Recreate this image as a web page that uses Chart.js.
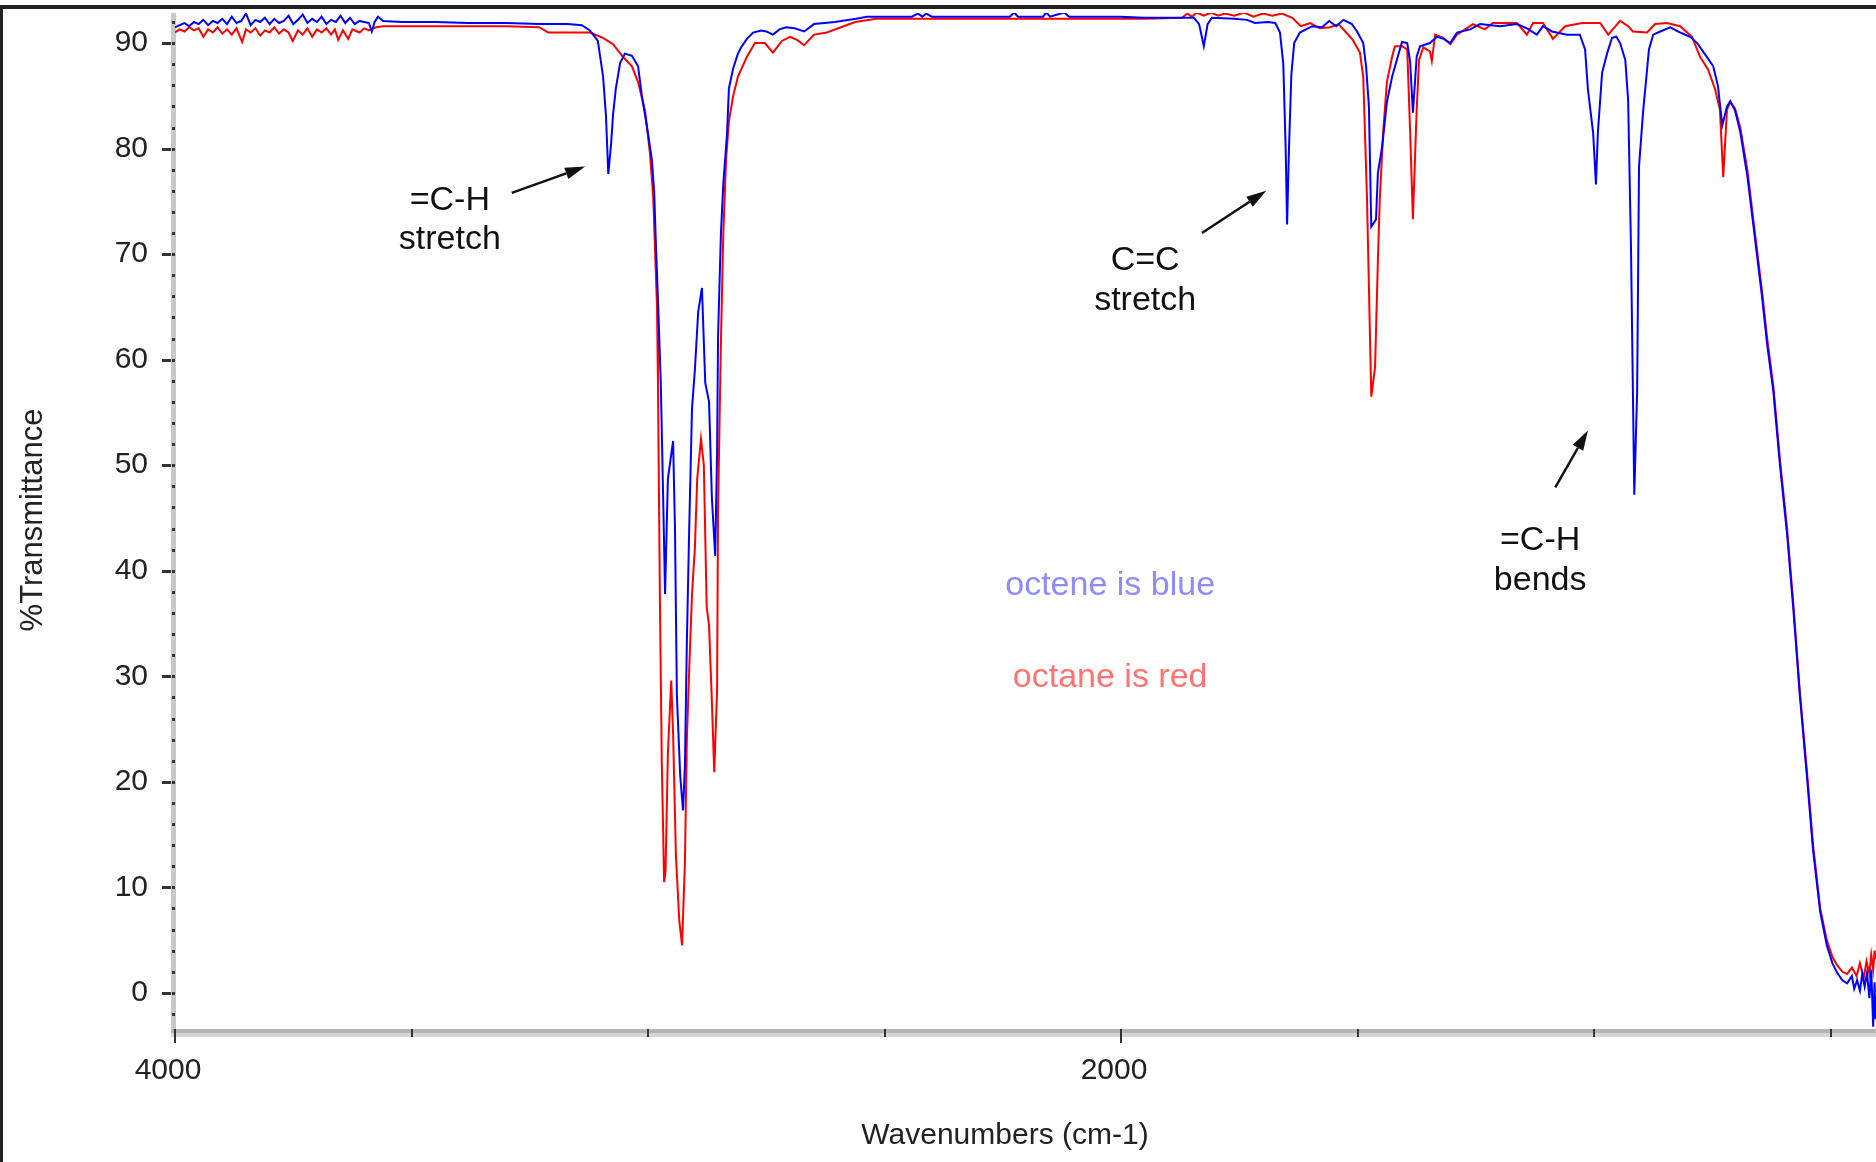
<!DOCTYPE html>
<html>
<head>
<meta charset="utf-8">
<title>IR spectra: octene vs octane</title>
<script src="https://cdn.jsdelivr.net/npm/chart.js@4.4.1/dist/chart.umd.min.js"></script>
<style>
  html, body { margin: 0; padding: 0; background: #fff; }
  #wrap { position: relative; width: 1876px; height: 1162px; }
</style>
</head>
<body>
<div id="wrap"><canvas id="irChart"></canvas></div>
<script>
// octene (blue)
const octeneWavenumbers = [
  4000, 3990, 3980, 3970, 3960, 3950, 3940, 3930, 3920, 3910, 3900, 3890, 3880, 3870, 3860, 3850,
  3840, 3830, 3820, 3810, 3800, 3790, 3780, 3770, 3760, 3750, 3740, 3730, 3720, 3710, 3700, 3690,
  3680, 3670, 3660, 3650, 3640, 3630, 3620, 3610, 3600, 3590, 3584, 3578, 3571, 3560,
  3520, 3450, 3380, 3300, 3230, 3170, 3140, 3123, 3106, 3095, 3089, 3084, 3078, 3074, 3068, 3059,
  3049, 3034, 3021, 3013, 3002, 2992, 2987, 2983, 2979, 2973, 2968, 2964, 2958, 2947, 2943, 2939,
  2932, 2926, 2922, 2918, 2913, 2907, 2901, 2894, 2886, 2879, 2871, 2865, 2858, 2854, 2852, 2846,
  2841, 2833, 2829, 2820, 2810, 2803, 2791, 2778, 2761, 2750, 2736, 2722, 2708, 2690, 2670, 2649,
  2605, 2560, 2537, 2442, 2430, 2420, 2412, 2400, 2235, 2226, 2218, 2165, 2158, 2150, 2120, 2110,
  2002, 1950, 1846, 1835, 1825, 1817, 1808, 1760, 1734, 1717, 1690, 1674, 1664, 1657, 1652, 1649,
  1645, 1640, 1634, 1622, 1596, 1575, 1560, 1545, 1530, 1512, 1501, 1488, 1482, 1476, 1471, 1461,
  1457, 1448, 1438, 1427, 1417, 1406, 1395, 1389, 1383, 1375, 1368, 1347, 1332, 1318, 1304, 1290,
  1262, 1241, 1199, 1163, 1142, 1121, 1108, 1089, 1057, 1030, 1019, 1013, 1002, 996, 992, 983,
  972, 962, 953, 945, 934, 928, 922, 915, 909, 905, 896, 890, 884, 875, 860, 839,
  818, 797, 782, 765, 748, 738, 729, 719, 712, 702, 691, 676, 664, 645, 634, 621,
  607, 592, 579, 565, 550, 537, 522, 508, 496, 486, 475, 465, 455, 450, 444, 438,
  433, 428, 423, 418, 414, 410, 407, 405
];
const octeneTransmittance = [
  91.5, 91.7, 91.9, 91.6, 92.0, 91.8, 92.2, 91.7, 92.1, 91.9, 92.3, 91.8, 92.5, 91.9, 92.1, 92.8,
  91.7, 92.2, 92.0, 92.4, 91.8, 92.3, 91.9, 92.1, 92.6, 91.8, 92.2, 92.7, 91.9, 92.3, 92.0, 92.5,
  91.8, 92.2, 92.0, 92.6, 91.9, 92.4, 91.8, 92.1, 92.0, 91.9, 91.1, 92.0, 92.5, 92.1,
  92.0, 92.0, 91.9, 91.9, 91.8, 91.8, 91.7, 91.2, 90.2, 86.8, 83.2, 77.6, 80.5, 83.2, 85.7, 88.1,
  89.0, 88.8, 87.8, 85.0, 82.0, 79.0, 75.9, 70.5, 65.7, 57.8, 46.9, 37.8, 48.7, 52.3, 43.9, 28.2,
  20.6, 17.3, 21.5, 33.0, 43.9, 55.4, 59.0, 64.5, 66.8, 57.8, 56.0, 46.9, 41.4, 51.2, 62.1, 71.8,
  76.6, 81.4, 85.7, 87.6, 89.0, 89.6, 90.4, 91.0, 91.2, 91.1, 90.8, 91.3, 91.5, 91.4, 91.1, 91.8,
  92.0, 92.3, 92.5, 92.5, 92.8, 92.5, 92.8, 92.5, 92.5, 92.9, 92.5, 92.5, 92.9, 92.5, 92.9, 92.5,
  92.5, 92.4, 92.4, 91.8, 89.7, 91.8, 92.4, 92.3, 92.2, 91.9, 92.0, 91.9, 91.0, 88.0, 80.0, 72.8,
  80.0, 87.0, 90.0, 91.0, 91.6, 91.5, 92.1, 91.6, 92.2, 91.8, 91.1, 90.0, 87.8, 84.0, 72.6, 73.3,
  77.7, 80.2, 84.4, 86.8, 88.4, 90.1, 90.0, 88.3, 83.4, 88.7, 89.7, 90.0, 90.6, 90.4, 90.0, 91.0,
  91.3, 91.8, 91.6, 91.8, 91.4, 90.8, 91.6, 91.1, 90.8, 90.8, 89.4, 85.6, 81.5, 76.6, 81.5, 87.2,
  89.1, 90.5, 90.6, 90.0, 88.4, 84.6, 70.7, 47.2, 56.9, 78.3, 83.7, 86.5, 89.4, 90.8, 91.1, 91.5,
  91.0, 90.6, 90.0, 88.9, 87.8, 85.9, 82.2, 84.0, 84.5, 83.6, 81.6, 77.4, 73.0, 66.0, 61.4, 57.0,
  50.0, 43.5, 36.5, 28.2, 20.5, 13.5, 7.7, 4.5, 2.8, 1.9, 1.2, 0.9, 1.6, 0.4, 1.2, 0.2,
  1.8, 0.6, 1.9, -0.5, 2.2, -3.2, 1.0, -2.5
];

// octane (red)
const octaneWavenumbers = [
  4000, 3990, 3980, 3970, 3960, 3950, 3940, 3930, 3920, 3910, 3900, 3890, 3880, 3870, 3858, 3850,
  3840, 3830, 3820, 3810, 3800, 3790, 3780, 3770, 3760, 3751, 3740, 3730, 3720, 3710, 3700, 3690,
  3680, 3670, 3662, 3655, 3645, 3634, 3625, 3610, 3600, 3590, 3575, 3560, 3500, 3400, 3300, 3230,
  3211, 3150, 3123, 3095, 3074, 3053, 3034, 3021, 3006, 2996, 2989, 2981, 2979, 2975, 2971, 2966,
  2963, 2958, 2951, 2947, 2941, 2934, 2928, 2922, 2918, 2913, 2907, 2901, 2896, 2888, 2882, 2876,
  2871, 2865, 2860, 2854, 2852, 2846, 2841, 2835, 2829, 2820, 2810, 2803, 2791, 2774, 2753, 2736,
  2717, 2700, 2685, 2670, 2649, 2622, 2592, 2562, 2518, 2300, 2100, 1950, 1871, 1860, 1850, 1840,
  1825, 1810, 1795, 1780, 1760, 1740, 1720, 1700, 1680, 1660, 1638, 1620, 1600, 1580, 1558, 1540,
  1526, 1510, 1495, 1488, 1480, 1471, 1463, 1457, 1453, 1446, 1438, 1427, 1421, 1406, 1395, 1389,
  1383, 1375, 1370, 1361, 1347, 1343, 1336, 1319, 1304, 1290, 1256, 1231, 1214, 1163, 1142, 1129,
  1108, 1087, 1061, 1025, 987, 970, 945, 928, 918, 888, 871, 846, 818, 793, 776, 759,
  744, 734, 727, 719, 712, 702, 691, 676, 664, 645, 634, 621, 607, 592, 579, 565,
  550, 537, 522, 508, 496, 486, 475, 465, 455, 445, 438, 430, 424, 418, 414, 410,
  407, 405
];
const octaneTransmittance = [
  91.0, 91.3, 91.1, 91.5, 91.2, 91.4, 90.6, 91.3, 91.0, 91.5, 90.9, 91.3, 90.8, 91.4, 90.1, 91.3,
  91.0, 91.4, 90.7, 91.2, 91.0, 91.5, 90.9, 91.3, 91.0, 90.2, 91.2, 90.8, 91.4, 90.6, 91.3, 91.0,
  91.4, 90.8, 91.3, 90.3, 91.2, 90.4, 91.3, 91.0, 91.4, 91.2, 91.5, 91.6, 91.6, 91.6, 91.6, 91.5,
  91.0, 91.0, 91.0, 90.5, 89.9, 88.7, 87.8, 86.3, 83.5, 79.6, 75.4, 65.0, 57.8, 37.8, 22.1, 10.5,
  11.5, 22.7, 29.6, 24.5, 13.0, 6.9, 4.5, 12.4, 23.9, 30.6, 37.8, 42.1, 48.7, 52.5, 50.0, 36.6,
  34.8, 27.6, 20.9, 28.7, 45.7, 61.4, 71.8, 79.0, 82.6, 85.0, 86.8, 87.5, 88.7, 90.0, 90.0, 89.1,
  90.2, 90.6, 90.3, 89.8, 90.8, 91.0, 91.5, 92.0, 92.3, 92.3, 92.3, 92.3, 92.4, 92.8, 92.5, 92.9,
  92.6, 92.9, 92.6, 92.8, 92.6, 92.9, 92.5, 92.8, 92.6, 92.8, 92.4, 91.6, 91.9, 91.4, 91.5, 91.8,
  91.1, 90.3, 89.1, 86.8, 75.2, 56.5, 59.3, 69.5, 75.2, 81.5, 86.3, 88.7, 89.7, 89.7, 89.4, 81.8,
  73.3, 83.7, 88.4, 89.6, 89.2, 88.3, 90.8, 90.5, 89.9, 90.8, 91.8, 91.3, 91.9, 91.9, 90.8, 91.9,
  91.9, 90.4, 91.6, 91.9, 91.9, 90.8, 92.1, 91.6, 91.1, 91.0, 91.8, 91.9, 91.6, 90.6, 88.7, 87.5,
  85.6, 83.7, 77.3, 83.7, 84.4, 83.8, 82.0, 78.0, 73.5, 66.5, 62.0, 57.5, 50.5, 44.0, 37.0, 28.5,
  21.0, 14.0, 8.0, 5.0, 3.4, 2.6, 2.0, 1.8, 2.4, 1.6, 2.8, 1.4, 3.0, 1.8, 3.6, 2.2,
  4.0, 3.2
];

const yTickValues = [0, 10, 20, 30, 40, 50, 60, 70, 80, 90];
const xTickValues = [4000, 3500, 3000, 2500, 2000, 1500, 1000, 500];
const xTickLabels = ['4000', '', '', '', '2000', '', '', ''];

// text notes, placed in data units (wavenumber, %T)
const notes = [
  { lines: ['=C-H', 'stretch'], x: 3419, y: [75.1, 71.4], from: [3288, 75.8], to: [3133, 78.3] },
  { lines: ['C=C', 'stretch'], x: 1949, y: [69.4, 65.6], from: [1829, 72.0], to: [1693, 76.0] },
  { lines: ['=C-H', 'bends'], x: 1114, y: [42.9, 39.1], from: [1082, 47.9], to: [1013, 53.3] }
];
const seriesNotes = [
  { text: 'octene is blue', x: 2023, y: 38.6, color: '#8c8cff' },
  { text: 'octane is red', x: 2023, y: 29.9, color: '#ff7373' }
];

const FONT = "'Liberation Sans', Arial, sans-serif";
Chart.defaults.font.family = FONT;

const toPoints = (xs, ys) => xs.map((v, i) => ({ x: v, y: ys[i] }));

const irDecor = {
  id: 'irDecor',
  beforeDatasetsDraw(chart) {
    const { ctx, chartArea: a, scales: { x, y } } = chart;
    ctx.save();
    // axis bands
    ctx.fillStyle = '#c8c8c8';
    ctx.fillRect(a.left - 4, a.top, 5, a.bottom - a.top);
    ctx.fillStyle = '#b4b4b4';
    ctx.fillRect(a.left - 4, a.bottom - 4, a.right - a.left + 4, 4);
    ctx.fillStyle = '#d6d6d6';
    ctx.fillRect(a.left - 4, a.bottom, a.right - a.left + 4, 4);

    ctx.fillStyle = '#333';
    for (let v = -2; v <= 92; v += 2) {
      const py = Math.round(y.getPixelForValue(v));
      ctx.fillRect(a.left - 3, py - 1, 3, 3);
    }
    yTickValues.forEach(v => {
      const py = Math.round(y.getPixelForValue(v));
      ctx.fillRect(a.left - 13, py - 1, 9, 3);
    });
    xTickValues.forEach((v, i) => {
      const px = Math.round(x.getPixelForValue(v));
      ctx.fillRect(px - 1, a.bottom - 4, 2, xTickLabels[i] ? 14 : 8);
    });
    ctx.restore();
  },
  afterDraw(chart) {
    const { ctx, scales: { x, y } } = chart;
    ctx.save();
    ctx.textAlign = 'center';
    ctx.textBaseline = 'middle';

    // annotations with arrows
    ctx.font = '34px ' + FONT;
    ctx.fillStyle = '#111';
    ctx.strokeStyle = '#111';
    ctx.lineWidth = 2.5;
    notes.forEach(n => {
      n.lines.forEach((t, i) => ctx.fillText(t, x.getPixelForValue(n.x), y.getPixelForValue(n.y[i])));
      const x0 = x.getPixelForValue(n.from[0]), y0 = y.getPixelForValue(n.from[1]);
      const x1 = x.getPixelForValue(n.to[0]), y1 = y.getPixelForValue(n.to[1]);
      const ang = Math.atan2(y1 - y0, x1 - x0);
      const hl = 20, hw = 6;
      const bx = x1 - hl * Math.cos(ang), by = y1 - hl * Math.sin(ang);
      ctx.beginPath();
      ctx.moveTo(x0, y0);
      ctx.lineTo(bx, by);
      ctx.stroke();
      ctx.beginPath();
      ctx.moveTo(x1, y1);
      ctx.lineTo(bx + hw * Math.sin(ang), by - hw * Math.cos(ang));
      ctx.lineTo(bx - hw * Math.sin(ang), by + hw * Math.cos(ang));
      ctx.closePath();
      ctx.fill();
    });

    seriesNotes.forEach(n => {
      ctx.fillStyle = n.color;
      ctx.fillText(n.text, x.getPixelForValue(n.x), y.getPixelForValue(n.y));
    });

    // axis titles
    ctx.fillStyle = '#222';
    ctx.font = '30px ' + FONT;
    ctx.fillText('Wavenumbers (cm-1)', 1005, 1136);
    ctx.translate(33, 520);
    ctx.rotate(-Math.PI / 2);
    ctx.font = '31px ' + FONT;
    ctx.fillText('%Transmittance', 0, 0);
    ctx.restore();

    // frame
    ctx.save();
    ctx.fillStyle = '#222';
    ctx.fillRect(0, 5, chart.width, 4);
    ctx.fillRect(0, 5, 3, chart.height - 5);
    ctx.restore();
  }
};

new Chart(document.getElementById('irChart'), {
  type: 'line',
  data: {
    datasets: [
      {
        label: 'octene',
        data: toPoints(octeneWavenumbers, octeneTransmittance),
        borderColor: '#0000ff',
        borderWidth: 2,
        pointRadius: 0,
        tension: 0
      },
      {
        label: 'octane',
        data: toPoints(octaneWavenumbers, octaneTransmittance),
        borderColor: '#ff0000',
        borderWidth: 2,
        pointRadius: 0,
        tension: 0
      }
    ]
  },
  options: {
    responsive: true,
    maintainAspectRatio: false,
    animation: false,
    layout: { padding: { top: 13, right: 0, bottom: 0, left: 0 } },
    plugins: {
      legend: { display: false },
      tooltip: { enabled: false }
    },
    scales: {
      x: {
        type: 'linear',
        reverse: true,
        min: 404,
        max: 4000,
        grid: { display: false },
        border: { display: false },
        afterFit: s => {
          s.height = 129;
          s.paddingLeft = 0;
          s.paddingRight = 0;
        },
        afterBuildTicks: s => { s.ticks = xTickValues.map(v => ({ value: v })); },
        ticks: {
          autoSkip: false,
          maxRotation: 0,
          padding: 12,
          labelOffset: -7,
          color: '#222',
          font: { size: 30 },
          callback: (v, i) => xTickLabels[i]
        }
      },
      y: {
        min: -3.8,
        max: 92.85,
        grid: { display: false },
        border: { display: false },
        afterFit: s => {
          s.width = 175;
          s.paddingTop = 0;
          s.paddingBottom = 0;
        },
        afterBuildTicks: s => { s.ticks = yTickValues.map(v => ({ value: v })); },
        ticks: {
          padding: 19,
          color: '#222',
          font: { size: 30 }
        }
      }
    }
  },
  plugins: [irDecor]
});
</script>
</body>
</html>
